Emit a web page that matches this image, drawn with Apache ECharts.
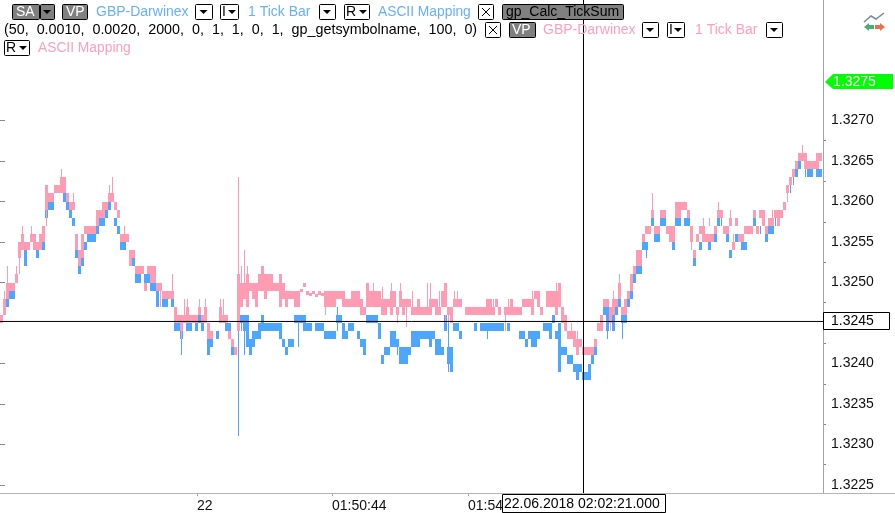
<!DOCTYPE html>
<html><head><meta charset="utf-8">
<style>html,body{margin:0;padding:0;background:#fff}#c{width:895px;height:513px}</style>
<script src="https://cdn.jsdelivr.net/npm/echarts@6/dist/echarts.min.js"></script>
</head><body><div id="c"></div>
<script>
// Prices are stored as pips above 1.3200 (45 = 1.3245). One entry per 3px column of the picture.
const pinkLow=[45,46,48,49,49,50,53,54,54,54,55,54,54,54,55,59,60,60,61,61,61,61,60,59,59,54,52,53,56,56,56,56,57,58,58,59,60,60,59,58,55,55,55,52,53,51,51,51,49,51,50,50,49,49,48,48,48,48,45,45,44,45,45,45,45,45,46,45,45,43,43,null,null,45,45,45,43,42,41,44,47,48,47,49,48,47,49,49,48,49,49,49,49,47,48,47,48,48,47,47,48.8,49.4,48.5,48.3,48.6,48.2,48.5,48.3,47,47,47,47,48,48,47,47,47,47,47,47,46,46,47,47,47,47,47,46,46,47,46,47,46,47,46,47,47,46,46,46,46,46,46,46,47,46,46,47,47,46,45,47,47,47,null,46,46,46,46,46,46,46,46,46,46,47,46,null,46,46,46,46,46,46,47,47,47,46,48,47,46,null,47,47,47,46,47,45,44,43,43,42,41,42,41,41,41,41,42,44,44,47,47,45,46,47,48,46,46,48,49,51,52,52,55,56,56,58,56,56,58,58,56,55,55,58,58,59,59,58,55,53,55,56,55,55,55,55,56,58,58,56,56,57,54,57,55,55,56,56,56,58,56,58,57,56,57,57,58,57,58,59,61,62,63,64,65,65,64,64,64,64,64,65];
const pinkHigh=[46,48,50,50,50,51,55,56,55,55,56,56,55,56,57,62,61,61,62,62,63,63,61,60,60,56,54,56,57,57,57,57,59,59,60,60,61,61,60,59,56,56,56,54,54,52,52,52,50,52,52,52,50,50,49,49,49,49,47,46,46,46,47,46,46,46,47,46,47,45,44,null,null,47,46,46,44,43,42,51,50,50,51,50,50,50,51,52,51,51,51,50,50,51,50,49,49,49,49,49,49.2,49.9,48.9,48.7,49,48.6,48.9,48.7,49,49,49,49,49,49,49,48,48,49,49,49,48,47,50,49,49,49,49,48,48,48,49,49,47,49,48,48,48,47,47,48,47,47,47,48,48,48,47,49,50,47,47,48,48,48,null,47,47,47,47,47,47,47,48,48,47,48,47,null,47,47,48,47,47,47,48,48,48,48,49,49,47,null,49,49,49,49,50,47,46,44,44,44,43,43,42,42,42,42,43,45,46,48,48,47,48,48,50,47,48,49,51,52,54,54,56,57,57,59,57,57,59,59,57,57,57,60,60,60,60,59,57,54,56,57,57,56,56,56,57,59,59,57,57,58,55,58,56,56,57,57,57,59,57,59,59,57,58,58,59,59,59,60,62,63,64,65,66,66,66,65,65,65,66,66];
const blueLow=[45,47,47,48,48,50,53,54,52,null,null,null,53,null,54,58,59,59,null,null,61,60,59,58,57,53,51,52,54,55,55,55,56,57,57,58,59,null,57,56,54,54,null,52,52,50,50,null,50,50,49,49,47,null,47,47,null,47,44,44,43,null,44,44,null,44,45,44,null,41,42,null,43,45,null,44,44,41,41,44,45,44,42,41,42,43,43,44,44,44,44,44,44,43,42,41,42,42,45,45,45,44,44,44,null,44,44,44,43,43,43,43,45,45,43,43,44,44,null,43,42,41,45,45,45,45,43,40,41,41,42,42,42,40,40,40,41,42,42,42,43,43,43,42,43,41,41,41,44,40,39,44,44,43,null,null,null,null,44,null,44,44,44,44,44,44,44,44,null,44,null,null,null,43,43,42,43,42,42,43,null,44,44,43,45,43,39,41,41,40,40,39,38,39,38,38,38,40,41,null,null,46,44,null,44,46,47,45,45,47,48,50,51,51,54,54,null,57,55,55,57,57,null,55,54,57,57,null,57,57,null,52,null,54,55,null,54,null,55,57,null,null,55,53,null,55,null,54,54,null,null,57,null,null,null,55,56,56,null,null,null,null,null,null,null,63,64,65,null,63,63,null,63,63];
const blueHigh=[46,48,49,49,49,51,54,55,54,null,null,null,54,null,55,59,60,60,null,null,62,61,60,59,58,54,52,53,55,56,56,56,57,58,58,59,60,null,58,57,55,55,null,53,53,51,51,null,51,51,50,50,49,null,48,48,null,48,45,45,44,null,45,45,null,45,46,45,null,43,43,null,44,46,null,46,45,42,42,46,46,46,46,43,44,44,45,46,45,45,45,45,45,45,43,42,43,43,46,46,46,46,45,45,null,45,45,45,44,44,44,44,46,46,45,44,45,45,null,44,43,43,46,46,46,46,45,41,42,42,44,44,43,42,42,42,42,44,44,44,44,44,44,44,44,43,43,42,46,42,42,45,45,44,null,null,null,null,45,null,45,45,45,45,45,45,45,45,null,45,null,null,null,44,44,43,44,44,44,44,null,45,45,45,46,44,45,42,42,41,41,40,40,40,39,39,40,42,42,null,null,47,47,null,46,47,49,46,46,48,50,51,52,52,55,55,null,58,56,56,58,58,null,56,55,58,58,null,58,58,null,53,null,55,56,null,55,null,56,58,null,null,56,54,null,56,null,55,55,null,null,58,null,null,null,56,57,57,null,null,null,null,null,null,null,64,65,66,null,64,64,null,65,64];
// Thin one-pixel strokes: column, low, high
const pinkWickCol=[1,2,5,6,7,10,15,20,24,36,37,41,53,57,60,61,62,66,68,73,74,79,80,81,82,93,108,124,127,130,133,135,137,143,146,151,152,164,169,177,185,132,142,148,149,168,190,192,203,204,206,217,230,234,236,239,243,244,257,262,267];
const pinkWickLow=[46,50,51,51,56,56,57,63,60,61,61,56,47,49,43,46,47,47,47,47,46,44,50,50,51,49,46,49,48,49,49,44.5,47,48,47,48,48,47,47,48,49,45,47,45,45,44,44,43,44,48,50,59,54,57,57,59,58,55,58,60,66];
const pinkWickHigh=[49,52,52,55,57,57,59,64,61,62,63,57,49,51,45,48,48,48,48,48,48,63,52,54,52,51,47,50,49.5,50,50,47,49,50,49,49,49,48,48,49,50,46,50,46,46,46,45,44,45,49,51,61,55,58,58,60,59,56,59,61,67];
const blueWickCol=[60,79,80,81,99,112,132,149,149,162,202,207,215,240,253,258,262,263,264,268];
const blueWickLow=[41,31,44,41,42,44,41,39,42,43,43,43,53,57,56,57,60,61,62,63];
const blueWickHigh=[43,44,45,44,45,47,42,40,46,44,44,45,54,58,57,58,61,62,63,64];

const yMajorTicks=[1.3225,1.3230,1.3235,1.3240,1.3250,1.3255,1.3260,1.3265,1.3270];
const yMinorTicks=[1.32275,1.32325,1.32375,1.32425,1.32475,1.32525,1.32575,1.32625,1.32675];
const xTickCols=[65.67,110.67,156];
const xTickLabels=['22','01:50:44','01:54'];
const crossCol=194.5, crossPrice=1.324519;
const lastPriceLabel='1.3275', crossPriceLabel='1.3245', crossTimeLabel='22.06.2018 02:02:21.000';

const PINK='#ff9cb4', BLUE='#4da6ff', TXTBLUE='#66b0ff', TXTPINK='#ffa0b8';
const toPrice=p=>1.32+p/10000;
const rows=(lo,hi)=>lo.map((l,i)=>l==null?null:[i,toPrice(l),toPrice(hi[i])]).filter(Boolean);
const wicks=(c,lo,hi)=>c.map((k,i)=>[k,toPrice(lo[i]),toPrice(hi[i])]);
const blockItem=(p,api)=>{
  const a=api.coord([api.value(0),api.value(2)]), b=api.coord([api.value(0)+1,api.value(1)]);
  return {type:'rect',shape:{x:a[0],y:Math.round(a[1]),width:b[0]-a[0],height:Math.round(b[1])-Math.round(a[1])},style:{fill:api.visual('color')}};
};
const wickItem=(p,api)=>{
  const a=api.coord([api.value(0)+0.5,api.value(2)]), b=api.coord([api.value(0)+0.5,api.value(1)]);
  return {type:'rect',shape:{x:Math.floor(a[0]),y:Math.round(a[1]),width:1,height:Math.round(b[1])-Math.round(a[1])},style:{fill:api.visual('color')}};
};
const custom=(data,color,fn,z)=>({type:'custom',data,renderItem:fn,itemStyle:{color},encode:{x:0,y:[1,2]},silent:true,clip:false,z,animation:false});

const FONT='"Liberation Sans",Arial,sans-serif';
const g=[];
const text=(x,y,t,fill,size)=>g.push({type:'text',x,y,z:100,silent:true,style:{text:t,fill,font:(size||14)+'px '+FONT,textVerticalAlign:'middle',textBaseline:'middle'}});
const box=(x,y,w,h,fill)=>g.push({type:'rect',z:100,silent:true,shape:{x:x+.5,y:y+.5,width:w,height:h,r:1},style:{fill:fill||'#fff',stroke:'#000',lineWidth:1}});
const arrow=(cx,cy,fill)=>g.push({type:'polygon',z:101,silent:true,shape:{points:[[cx-4,cy-2],[cx+4,cy-2],[cx,cy+2]]},style:{fill:fill||'#000'}});
const ddBox=(x,y,w,label)=>{box(x,y,w,15); if(label){text(x+2,y+8,label,'#000');arrow(x+w-6,y+8);}else arrow(x+w/2,y+8);};
const xBox=(x,y)=>{box(x,y,15,15);g.push({type:'polyline',z:101,silent:true,shape:{points:[[x+4,y+4],[x+12,y+12]]},style:{stroke:'#000',fill:null}},{type:'polyline',z:101,silent:true,shape:{points:[[x+12,y+4],[x+4,y+12]]},style:{stroke:'#000',fill:null}});};
// frame
g.push({type:'rect',z:90,silent:true,shape:{x:823,y:0,width:1,height:493},style:{fill:'#a3a3a3'}});
g.push({type:'rect',z:90,silent:true,shape:{x:0,y:493,width:895,height:1},style:{fill:'#b4b4b4'}});
// line 1
box(12,4,27,15,'#808080');text(16,12,'SA','#fff');box(40,4,14,15,'#808080');arrow(47,12);
box(62,4,25,15,'#808080');text(66,12,'VP','#fff');
text(96,12,'GBP-Darwinex',TXTBLUE);ddBox(195,4,17);ddBox(220,4,18,'I');text(248,12,'1 Tick Bar',TXTBLUE);
ddBox(319,4,16);ddBox(344,4,25,'R');text(378,12,'ASCII Mapping',TXTBLUE,13.8);xBox(478,4);
box(502,4,121,15,'#808080');text(506,12,'gp_Calc_TickSum','#000');
// line 2
text(4,30,'(50,  0.0010,  0.0020,  2000,  0,  1,  1,  0,  1,  gp_getsymbolname,  100,  0)','#000',14.33);
xBox(485,22);box(509,22,26,15,'#808080');text(512,30,'VP','#fff');
text(543,30,'GBP-Darwinex',TXTPINK);ddBox(642,22,16);ddBox(667,22,17,'I');text(695,30,'1 Tick Bar',TXTPINK);ddBox(766,22,16);
// line 3
ddBox(4,40,25,'R');text(38,48,'ASCII Mapping',TXTPINK,13.8);
// icon
g.push({type:'polyline',z:100,silent:true,shape:{points:[[864,22],[871,16],[876,19],[884,13]]},style:{stroke:'#7a8a96',lineWidth:1.5,fill:null}});
g.push({type:'polygon',z:100,silent:true,shape:{points:[[864,27],[869,23],[869,25],[874,25],[874,29],[869,29],[869,31]]},style:{fill:'#4caf6e'}});
g.push({type:'polygon',z:100,silent:true,shape:{points:[[885,27],[880,23],[880,25],[875,25],[875,29],[880,29],[880,31]]},style:{fill:'#e8704e'}});
// last-price flag
g.push({type:'polygon',z:100,silent:true,shape:{points:[[825,82],[833,74],[893,74],[893,89],[833,89]]},style:{fill:'#00ff00'}});
text(833,82,lastPriceLabel,'#fff');
// crosshair labels
g.push({type:'rect',z:100,silent:true,shape:{x:823.5,y:312.5,width:66,height:17},style:{fill:'#fff',stroke:'#000',lineWidth:1}});
text(831,321,crossPriceLabel,'#000');
g.push({type:'rect',z:100,silent:true,shape:{x:502.5,y:494.5,width:163,height:18},style:{fill:'#fff',stroke:'#000',lineWidth:1}});
text(504,504,crossTimeLabel,'#000');

const chart=echarts.init(document.getElementById('c'),null,{renderer:'canvas'});
chart.setOption({
  animation:false,backgroundColor:'#fff',
  grid:{left:0,top:-1,width:823,height:494.1,containLabel:false,outerBoundsMode:'none'},
  xAxis:{type:'value',min:0,max:823/3,splitLine:{show:false},axisLine:{show:false},
    axisTick:{show:true,length:3,lineStyle:{color:'#a0a0a0'},customValues:xTickCols},
    axisLabel:{show:true,customValues:xTickCols,margin:6,align:'left',color:'#111',fontFamily:FONT,fontSize:14,
      formatter:v=>{const i=xTickCols.findIndex(c=>Math.abs(c-v)<1e-6);return i<0?'':xTickLabels[i];}}},
  yAxis:[
    {type:'value',position:'right',min:1.3224,max:1.3285,interval:0.0001,splitLine:{show:false},axisLine:{show:false},
     axisTick:{show:true,length:5,lineStyle:{color:'#8a8a8a'},customValues:yMajorTicks},
     axisLabel:{show:true,customValues:yMajorTicks,margin:8,color:'#111',fontFamily:FONT,fontSize:14,formatter:v=>v.toFixed(4)}},
    {type:'value',position:'right',min:1.3224,max:1.3285,interval:0.0001,splitLine:{show:false},axisLine:{show:false},
     axisTick:{show:true,length:3,lineStyle:{color:'#8a8a8a'},customValues:yMinorTicks},axisLabel:{show:false}}
  ],
  series:[
    custom(rows(blueLow,blueHigh),BLUE,blockItem,2),
    custom(wicks(blueWickCol,blueWickLow,blueWickHigh),BLUE,wickItem,2),
    custom(rows(pinkLow,pinkHigh),PINK,blockItem,3),
    custom(wicks(pinkWickCol,pinkWickLow,pinkWickHigh),PINK,wickItem,3),
    {type:'line',data:[[crossCol,1.3285],[crossCol,1.3224]],symbol:'none',silent:true,z:10,lineStyle:{color:'#000',width:1}},
    {type:'line',data:[[0,crossPrice],[823/3,crossPrice]],symbol:'none',silent:true,z:10,lineStyle:{color:'#000',width:1}}
  ],
  graphic:g
});
</script></body></html>
